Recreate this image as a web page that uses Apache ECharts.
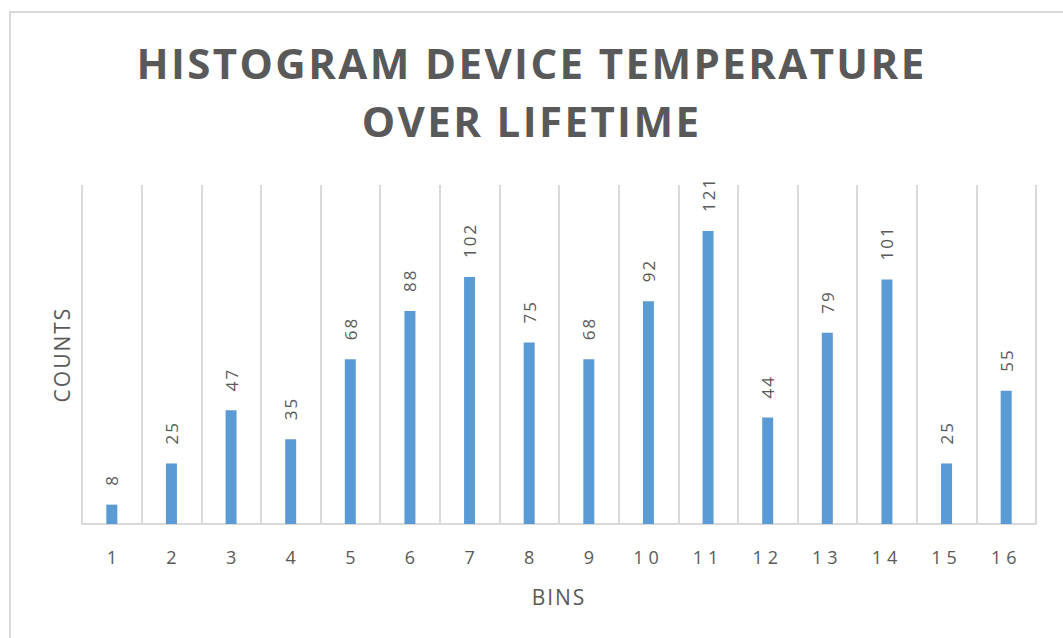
<!DOCTYPE html>
<html>
<head>
<meta charset="utf-8">
<script src="https://cdn.jsdelivr.net/npm/echarts@6/dist/echarts.min.js"></script>
<style>
html,body{margin:0;padding:0;background:#fff;}
#chart{width:1063px;height:638px;}
</style>
</head>
<body>
<div id="chart"></div>
<script>
const titleText = "HISTOGRAM DEVICE TEMPERATURE\nOVER LIFETIME";
const categories = ["1","2","3","4","5","6","7","8","9","10","11","12","13","14","15","16"];
const counts = [8,25,47,35,68,88,102,75,68,92,121,44,79,101,25,55];
const xAxisName = "BINS";
const yAxisName = "COUNTS";

const chart = echarts.init(document.getElementById('chart'), null, {renderer:'svg'});
chart.setOption({
  backgroundColor:'#fff',
  animation:false,
  graphic:[{
    type:'rect', silent:true,
    shape:{x:10,y:12,width:1070,height:650},
    style:{fill:'none',stroke:'#d9d9d9',lineWidth:2}
  }],
  title:{
    text:titleText,
    left:'center', top:33, padding:[0,0,0,12],
    textStyle:{fontFamily:'Open Sans',fontWeight:'bold',fontSize:42,color:'#595959',lineHeight:58}
  },
  grid:{left:82,right:27,top:185,bottom:114,containLabel:false},
  xAxis:{
    type:'category',
    data:categories,
    boundaryGap:true,
    name:xAxisName,
    nameLocation:'middle',
    nameGap:62,
    nameTextStyle:{fontFamily:'Open Sans',fontSize:21,color:'#595959'},
    axisLine:{show:true,lineStyle:{color:'#d9d9d9',width:2}},
    axisTick:{show:false},
    axisLabel:{fontFamily:'Open Sans',fontSize:18,color:'#595959',margin:24},
    splitLine:{show:true,lineStyle:{color:'#d9d9d9',width:2}}
  },
  yAxis:{
    type:'value',
    min:0,max:140,interval:20,
    name:yAxisName,
    nameLocation:'middle',
    nameGap:10,
    nameTextStyle:{fontFamily:'Open Sans',fontSize:21,color:'#595959'},
    axisLine:{show:false},
    axisTick:{show:false},
    axisLabel:{show:false},
    splitLine:{show:false}
  },
  series:[{
    type:'bar',
    data:counts,
    barWidth:11,
    itemStyle:{color:'#5b9bd5'},
    label:{
      show:true,
      position:'top',
      distance:19,
      rotate:90,
      align:'left',
      verticalAlign:'middle',
      fontFamily:'Open Sans',
      fontSize:17,
      color:'#595959'
    }
  }]
});

// Excel-like wide tracking of text
function applySpacing(){
  document.querySelectorAll('#chart text').forEach(function(t){
    const fs = parseFloat(getComputedStyle(t).fontSize);
    let ls = 0;
    if (fs >= 40) ls = 2.4;
    else if (fs >= 20) ls = 2;
    else if (fs >= 18) ls = 5;
    else ls = 2;
    if ((t.textContent || '').length < 2) ls = 0;
    t.style.letterSpacing = ls + 'px';
  });
}
applySpacing();
chart.on('finished', applySpacing);
</script>
</body>
</html>
